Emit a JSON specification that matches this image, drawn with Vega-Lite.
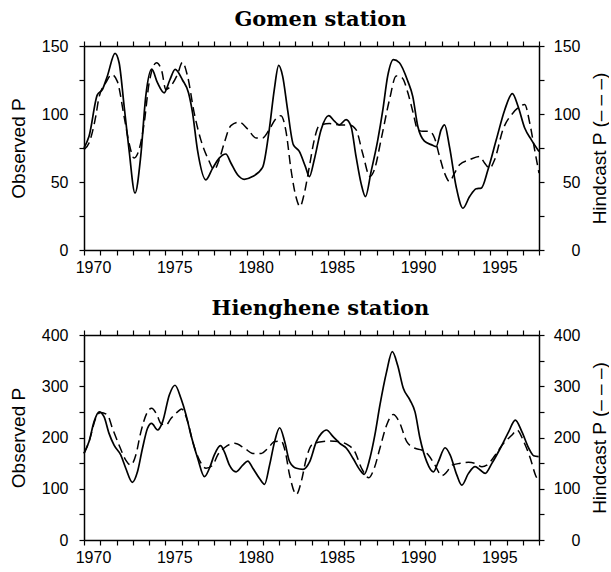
{
 "$schema": "https://vega.github.io/schema/vega-lite/v6.json",
 "background": "white",
 "padding": {"left": 9, "top": 9, "right": 0, "bottom": 2},
 "spacing": 23,
 "config": {
  "view": {"stroke": null},
  "axis": {"domainColor": "black", "domainWidth": 1.5, "tickColor": "black", "tickWidth": 1.2, "tickSize": 5, "labelFont": "Liberation Sans", "labelFontSize": 16, "labelColor": "black", "titleFont": "Liberation Sans", "titleFontSize": 19, "titleFontWeight": "normal", "titleColor": "black", "grid": false},
  "title": {"font": "DejaVu Serif", "fontSize": 21, "fontWeight": "bold", "color": "black", "offset": 8, "dx": 9}
 },
 "datasets": {
  "gomen_obs": [
   {"year":1970.00,"p":75},{"year":1970.31,"p":83.6},{"year":1970.82,"p":114},{"year":1971.13,"p":118},{"year":1971.44,"p":128},{"year":1971.91,"p":144.6},{"year":1972.16,"p":137.7},{"year":1972.47,"p":105.7},{"year":1972.77,"p":73.8},{"year":1973.14,"p":41.8},{"year":1973.49,"p":68.8},{"year":1973.80,"p":113},{"year":1974.17,"p":133},{"year":1974.52,"p":123},{"year":1974.93,"p":115.6},{"year":1975.28,"p":125},{"year":1975.61,"p":132.8},{"year":1976.06,"p":125},{"year":1976.43,"p":115.6},{"year":1976.68,"p":100.8},{"year":1976.98,"p":73.8},{"year":1977.50,"p":51.6},{"year":1977.91,"p":60},{"year":1978.32,"p":67.6},{"year":1978.73,"p":70.6},{"year":1979.04,"p":64},{"year":1979.45,"p":55.3},{"year":1979.86,"p":52},{"year":1980.37,"p":54},{"year":1980.99,"p":60.7},{"year":1981.40,"p":88.5},{"year":1981.71,"p":118},{"year":1981.98,"p":135.7},{"year":1982.22,"p":128},{"year":1982.53,"p":103},{"year":1982.88,"p":77.5},{"year":1983.25,"p":72.5},{"year":1983.62,"p":61.5},{"year":1983.87,"p":54},{"year":1984.17,"p":66.4},{"year":1984.59,"p":88.5},{"year":1985.06,"p":98.8},{"year":1985.41,"p":94.7},{"year":1985.71,"p":92},{"year":1986.13,"p":95.9},{"year":1986.43,"p":91},{"year":1986.74,"p":68.8},{"year":1987.05,"p":49},{"year":1987.32,"p":39.3},{"year":1987.67,"p":57.8},{"year":1988.08,"p":81},{"year":1988.39,"p":103},{"year":1988.69,"p":128},{"year":1989.04,"p":140},{"year":1989.41,"p":137.7},{"year":1989.93,"p":124},{"year":1990.23,"p":113},{"year":1990.54,"p":91},{"year":1990.95,"p":80},{"year":1991.36,"p":77.5},{"year":1991.67,"p":76},{"year":1991.98,"p":88.5},{"year":1992.19,"p":92},{"year":1992.49,"p":76},{"year":1992.90,"p":46.7},{"year":1993.32,"p":30.7},{"year":1993.73,"p":39.3},{"year":1994.14,"p":45},{"year":1994.45,"p":45.5},{"year":1994.86,"p":59},{"year":1995.37,"p":81},{"year":1995.89,"p":103},{"year":1996.36,"p":115},{"year":1996.71,"p":105.7},{"year":1997.12,"p":89.7},{"year":1997.53,"p":81},{"year":1998.00,"p":72.5}
  ],
  "gomen_hind": [
   {"year":1970.00,"p":73.8},{"year":1970.31,"p":78.7},{"year":1970.72,"p":98},{"year":1970.92,"p":112},{"year":1971.34,"p":123},{"year":1971.71,"p":129},{"year":1972.05,"p":124},{"year":1972.47,"p":98},{"year":1972.77,"p":78.7},{"year":1973.08,"p":67.6},{"year":1973.39,"p":73.8},{"year":1973.70,"p":93},{"year":1974.01,"p":123},{"year":1974.46,"p":137.7},{"year":1974.79,"p":131.5},{"year":1975.03,"p":118},{"year":1975.34,"p":120.5},{"year":1975.75,"p":129},{"year":1976.06,"p":138},{"year":1976.37,"p":128},{"year":1976.78,"p":100.8},{"year":1977.19,"p":81},{"year":1977.66,"p":66.4},{"year":1978.01,"p":59},{"year":1978.32,"p":66.4},{"year":1978.63,"p":78.7},{"year":1979.04,"p":91.5},{"year":1979.55,"p":94},{"year":1980.07,"p":89},{"year":1980.58,"p":82.4},{"year":1980.99,"p":82.4},{"year":1981.40,"p":88.5},{"year":1981.77,"p":95.9},{"year":1982.12,"p":98.8},{"year":1982.43,"p":87.3},{"year":1982.74,"p":59},{"year":1983.04,"p":39.3},{"year":1983.29,"p":32},{"year":1983.56,"p":41.8},{"year":1983.87,"p":61.5},{"year":1984.17,"p":81},{"year":1984.48,"p":91.5},{"year":1985.10,"p":93},{"year":1985.71,"p":92},{"year":1986.33,"p":92},{"year":1986.74,"p":88.5},{"year":1987.15,"p":71},{"year":1987.60,"p":54},{"year":1987.87,"p":59},{"year":1988.28,"p":81},{"year":1988.80,"p":110.6},{"year":1989.21,"p":128},{"year":1989.58,"p":126.6},{"year":1989.93,"p":115.6},{"year":1990.23,"p":102},{"year":1990.54,"p":88.5},{"year":1990.85,"p":87.3},{"year":1991.26,"p":87.3},{"year":1991.57,"p":82.4},{"year":1991.88,"p":68.8},{"year":1992.19,"p":56.5},{"year":1992.49,"p":50.4},{"year":1992.80,"p":56.5},{"year":1993.11,"p":62.7},{"year":1993.73,"p":66.4},{"year":1994.34,"p":68.8},{"year":1994.65,"p":64},{"year":1994.96,"p":60.2},{"year":1995.27,"p":66.4},{"year":1995.78,"p":88.5},{"year":1996.40,"p":100.8},{"year":1996.71,"p":104.5},{"year":1997.12,"p":107},{"year":1997.43,"p":93.4},{"year":1997.73,"p":73.8},{"year":1998.00,"p":56.5}
  ],
  "hien_obs": [
   {"year":1970.00,"p":169},{"year":1970.31,"p":192},{"year":1970.62,"p":231},{"year":1970.93,"p":250},{"year":1971.23,"p":240.7},{"year":1971.54,"p":208},{"year":1971.85,"p":185},{"year":1972.26,"p":166},{"year":1972.57,"p":140},{"year":1972.98,"p":112.5},{"year":1973.29,"p":133},{"year":1973.60,"p":179},{"year":1973.91,"p":218},{"year":1974.16,"p":227.6},{"year":1974.53,"p":214.6},{"year":1974.84,"p":231},{"year":1975.25,"p":283},{"year":1975.60,"p":302},{"year":1975.97,"p":276},{"year":1976.28,"p":244},{"year":1976.58,"p":205},{"year":1977.00,"p":159},{"year":1977.41,"p":123.6},{"year":1977.72,"p":140},{"year":1978.02,"p":166},{"year":1978.40,"p":184},{"year":1978.64,"p":172},{"year":1978.95,"p":146},{"year":1979.36,"p":133},{"year":1979.77,"p":146},{"year":1980.08,"p":154},{"year":1980.39,"p":140},{"year":1980.80,"p":120},{"year":1981.11,"p":108.6},{"year":1981.42,"p":146},{"year":1981.73,"p":192},{"year":1982.04,"p":219},{"year":1982.35,"p":192},{"year":1982.65,"p":153},{"year":1983.07,"p":140},{"year":1983.48,"p":138},{"year":1983.89,"p":153},{"year":1984.30,"p":192},{"year":1984.61,"p":208},{"year":1984.92,"p":214.6},{"year":1985.33,"p":201.6},{"year":1985.74,"p":188.6},{"year":1986.15,"p":179},{"year":1986.56,"p":159},{"year":1986.98,"p":136.6},{"year":1987.24,"p":128},{"year":1987.59,"p":159},{"year":1987.90,"p":205},{"year":1988.21,"p":263},{"year":1988.62,"p":328},{"year":1988.97,"p":367.5},{"year":1989.30,"p":341},{"year":1989.65,"p":296},{"year":1990.06,"p":273},{"year":1990.37,"p":250},{"year":1990.68,"p":198},{"year":1991.09,"p":153},{"year":1991.50,"p":133},{"year":1991.81,"p":153},{"year":1992.22,"p":180},{"year":1992.53,"p":166},{"year":1992.94,"p":127},{"year":1993.25,"p":107},{"year":1993.66,"p":130},{"year":1994.07,"p":143},{"year":1994.38,"p":136.6},{"year":1994.69,"p":130},{"year":1995.10,"p":149.6},{"year":1995.62,"p":179},{"year":1996.13,"p":211},{"year":1996.54,"p":234},{"year":1996.95,"p":211},{"year":1997.37,"p":179},{"year":1997.67,"p":164.5},{"year":1997.98,"p":162.6}
  ],
  "hien_hind": [
   {"year":1970.00,"p":169},{"year":1970.31,"p":192},{"year":1970.72,"p":237},{"year":1971.03,"p":249},{"year":1971.44,"p":244},{"year":1971.75,"p":218},{"year":1972.16,"p":185},{"year":1972.57,"p":156},{"year":1972.88,"p":146},{"year":1973.19,"p":166},{"year":1973.50,"p":211},{"year":1973.91,"p":250},{"year":1974.16,"p":257},{"year":1974.49,"p":244},{"year":1974.73,"p":227.6},{"year":1975.04,"p":224},{"year":1975.35,"p":237},{"year":1975.76,"p":250},{"year":1976.01,"p":255.6},{"year":1976.38,"p":231},{"year":1976.69,"p":192},{"year":1977.10,"p":156},{"year":1977.51,"p":140},{"year":1977.92,"p":146},{"year":1978.23,"p":166},{"year":1978.64,"p":180},{"year":1979.26,"p":188.6},{"year":1979.88,"p":179},{"year":1980.39,"p":169},{"year":1980.91,"p":169},{"year":1981.32,"p":179},{"year":1981.73,"p":192},{"year":1982.14,"p":193},{"year":1982.39,"p":172},{"year":1982.65,"p":127},{"year":1983.07,"p":89},{"year":1983.37,"p":114},{"year":1983.68,"p":159},{"year":1984.00,"p":185},{"year":1984.40,"p":190.6},{"year":1985.02,"p":193},{"year":1985.64,"p":192},{"year":1986.26,"p":185},{"year":1986.67,"p":172},{"year":1987.08,"p":140},{"year":1987.53,"p":121.6},{"year":1987.86,"p":140},{"year":1988.21,"p":179},{"year":1988.62,"p":224},{"year":1989.03,"p":245},{"year":1989.44,"p":227.6},{"year":1989.86,"p":192},{"year":1990.37,"p":179},{"year":1990.78,"p":175.6},{"year":1991.19,"p":166},{"year":1991.60,"p":146},{"year":1992.02,"p":125.5},{"year":1992.33,"p":133},{"year":1992.63,"p":146},{"year":1993.15,"p":149.6},{"year":1993.66,"p":151.5},{"year":1994.07,"p":149.6},{"year":1994.49,"p":143},{"year":1994.79,"p":146},{"year":1995.31,"p":166},{"year":1995.82,"p":188.6},{"year":1996.34,"p":205},{"year":1996.65,"p":214.6},{"year":1997.06,"p":192},{"year":1997.47,"p":159},{"year":1997.78,"p":127},{"year":1998.00,"p":114}
  ]
 },
 "vconcat": [
  {
   "title": "Gomen station",
   "width": 455,
   "height": 204,
   "layer": [
    {
     "data": {"name": "gomen_obs"},
     "mark": {"type": "line", "interpolate": "monotone", "strokeWidth": 1.7, "color": "black"},
     "encoding": {
      "x": {"field": "year", "type": "quantitative", "scale": {"domain": [1970, 1998], "nice": false, "zero": false},
            "axis": {"orient": "bottom", "values": [1970,1971,1972,1973,1974,1975,1976,1977,1978,1979,1980,1981,1982,1983,1984,1985,1986,1987,1988,1989,1990,1991,1992,1993,1994,1995,1996,1997,1998], "format": "d", "labelExpr": "datum.value % 5 == 0 && datum.value < 1998 ? datum.label : ''", "title": null, "labelOffset": 9, "labelPadding": 4, "labelFlush": false, "labelOverlap": false}},
      "y": {"field": "p", "type": "quantitative", "scale": {"domain": [0, 150], "nice": false},
            "axis": {"orient": "left", "values": [0,25,50,75,100,125,150], "labelExpr": "datum.value % 50 == 0 ? datum.label : ''", "title": "Observed P", "labelPadding": 11, "titlePadding": 13}}
     }
    },
    {
     "data": {"name": "gomen_hind"},
     "mark": {"type": "line", "interpolate": "monotone", "strokeWidth": 1.5, "strokeDash": [9, 5], "color": "black"},
     "encoding": {
      "x": {"field": "year", "type": "quantitative", "scale": {"domain": [1970, 1998], "nice": false, "zero": false},
            "axis": {"orient": "top", "values": [1970,1971,1972,1973,1974,1975,1976,1977,1978,1979,1980,1981,1982,1983,1984,1985,1986,1987,1988,1989,1990,1991,1992,1993,1994,1995,1996,1997,1998], "labels": false, "title": null}},
      "y": {"field": "p", "type": "quantitative", "scale": {"domain": [0, 150], "nice": false},
            "axis": {"orient": "right", "values": [0,25,50,75,100,125,150], "labelExpr": "datum.value % 50 == 0 ? datum.label : ''", "title": "Hindcast P (– – –)", "titleAngle": 270, "labelAlign": "right", "labelPadding": 36, "titlePadding": 29}}
     }
    }
   ],
   "resolve": {"scale": {"x": "independent", "y": "independent"}}
  },
  {
   "title": "Hienghene station",
   "width": 455,
   "height": 205,
   "layer": [
    {
     "data": {"name": "hien_obs"},
     "mark": {"type": "line", "interpolate": "monotone", "strokeWidth": 1.7, "color": "black"},
     "encoding": {
      "x": {"field": "year", "type": "quantitative", "scale": {"domain": [1970, 1998], "nice": false, "zero": false},
            "axis": {"orient": "bottom", "values": [1970,1971,1972,1973,1974,1975,1976,1977,1978,1979,1980,1981,1982,1983,1984,1985,1986,1987,1988,1989,1990,1991,1992,1993,1994,1995,1996,1997,1998], "format": "d", "labelExpr": "datum.value % 5 == 0 && datum.value < 1998 ? datum.label : ''", "title": null, "labelOffset": 9, "labelPadding": 4, "labelFlush": false, "labelOverlap": false}},
      "y": {"field": "p", "type": "quantitative", "scale": {"domain": [0, 400], "nice": false},
            "axis": {"orient": "left", "values": [0,50,100,150,200,250,300,350,400], "labelExpr": "datum.value % 100 == 0 ? datum.label : ''", "title": "Observed P", "labelPadding": 11, "titlePadding": 13}}
     }
    },
    {
     "data": {"name": "hien_hind"},
     "mark": {"type": "line", "interpolate": "monotone", "strokeWidth": 1.5, "strokeDash": [9, 5], "color": "black"},
     "encoding": {
      "x": {"field": "year", "type": "quantitative", "scale": {"domain": [1970, 1998], "nice": false, "zero": false},
            "axis": {"orient": "top", "values": [1970,1971,1972,1973,1974,1975,1976,1977,1978,1979,1980,1981,1982,1983,1984,1985,1986,1987,1988,1989,1990,1991,1992,1993,1994,1995,1996,1997,1998], "labels": false, "title": null}},
      "y": {"field": "p", "type": "quantitative", "scale": {"domain": [0, 400], "nice": false},
            "axis": {"orient": "right", "values": [0,50,100,150,200,250,300,350,400], "labelExpr": "datum.value % 100 == 0 ? datum.label : ''", "title": "Hindcast P (– – –)", "titleAngle": 270, "labelAlign": "right", "labelPadding": 36, "titlePadding": 29}}
     }
    }
   ],
   "resolve": {"scale": {"x": "independent", "y": "independent"}}
  }
 ]
}
